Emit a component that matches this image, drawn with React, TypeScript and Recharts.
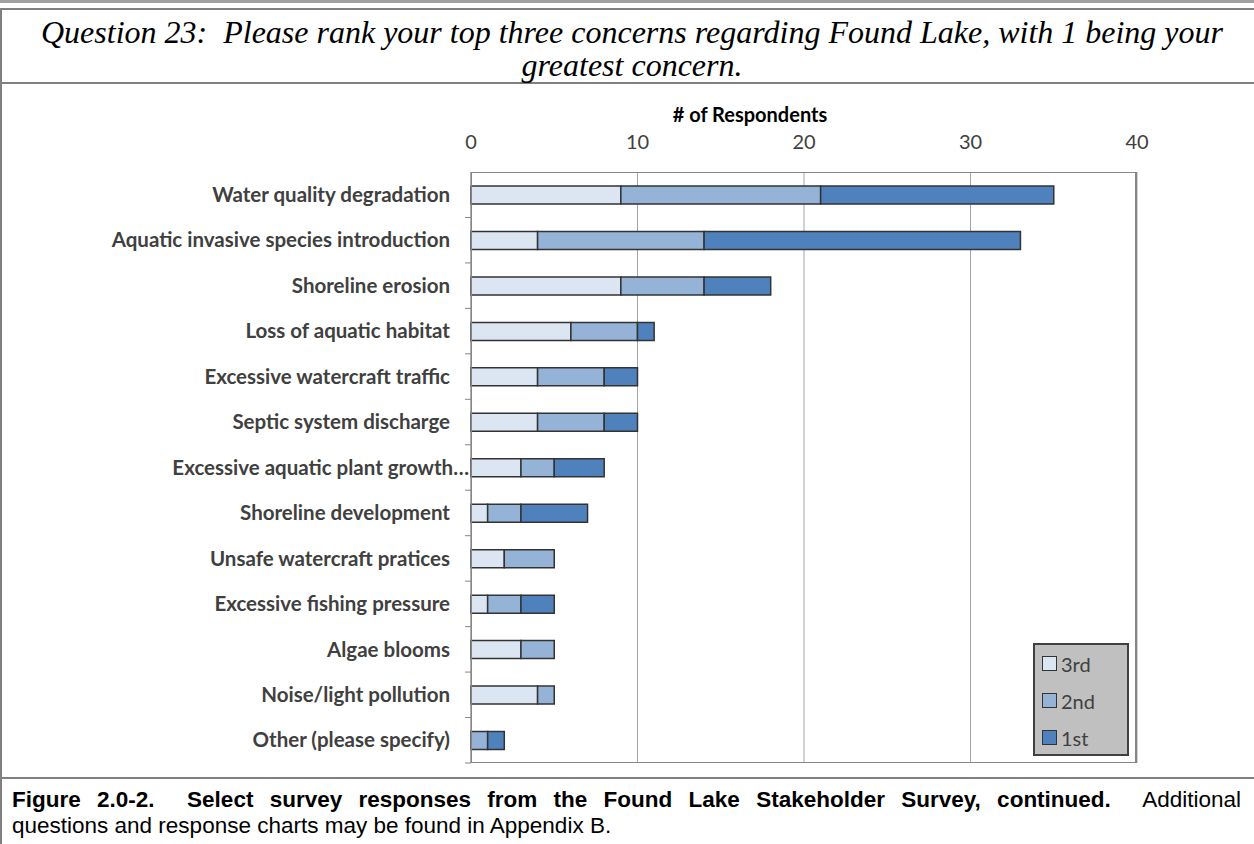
import React from 'react';
import { BarChart, Bar, XAxis, YAxis, CartesianGrid, Legend } from 'recharts';

// survey answers, top to bottom as in the figure
const categories = [
  'Water quality degradation',
  'Aquatic invasive species introduction',
  'Shoreline erosion',
  'Loss of aquatic habitat',
  'Excessive watercraft traffic',
  'Septic system discharge',
  'Excessive aquatic plant growth…',
  'Shoreline development',
  'Unsafe watercraft pratices',
  'Excessive fishing pressure',
  'Algae blooms',
  'Noise/light pollution',
  'Other (please specify)',
];
const third = [9, 4, 9, 6, 4, 4, 3, 1, 2, 1, 3, 4, 0];
const second = [12, 10, 5, 4, 4, 4, 2, 2, 3, 2, 2, 1, 1];
const first = [14, 19, 4, 1, 2, 2, 3, 4, 0, 2, 0, 0, 1];
const xTicks = [0, 10, 20, 30, 40];

const data = categories.map((name, i) => ({
  name,
  third: third[i],
  second: second[i],
  first: first[i],
}));

const W = 1254;
const H = 844;
const PLOT_LEFT = 471;
const PLOT_RIGHT = 1137;
const PLOT_TOP = 172;
const PLOT_BOTTOM = 763;
const X_AXIS_H = 30;
const BAND = (PLOT_BOTTOM - PLOT_TOP) / categories.length;
const CHART_FONT = 'Lato, "Open Sans", sans-serif';
const SERIF = '"Liberation Serif", "Times New Roman", serif';
const SANS = '"Liberation Sans", Arial, sans-serif';

const CategoryTick = ({ y, payload }: any) => {
  const clipped = String(payload.value).endsWith('…');
  return (
    <g>
      <text
        x={clipped ? PLOT_LEFT - 2 : PLOT_LEFT - 21}
        y={y}
        dy="0.35em"
        textAnchor="end"
        fontFamily={CHART_FONT}
        fontWeight={700}
        fontSize={20.5}
        fill="#404040"
      >
        {payload.value}
      </text>
      <line x1={PLOT_LEFT - 6} x2={PLOT_LEFT} y1={y + BAND / 2} y2={y + BAND / 2} stroke="#868686" />
    </g>
  );
};

const ValueTick = ({ x, payload }: any) => (
  <text
    x={x}
    y={PLOT_TOP - 23}
    textAnchor="middle"
    fontFamily={CHART_FONT}
    fontSize={20}
    fill="#404040"
  >
    {payload.value}
  </text>
);

const LegendBox = ({ payload }: any) => (
  <div
    style={{
      background: '#c0c0c0',
      border: '2px solid #404040',
      boxSizing: 'border-box',
      width: 96,
      height: 113,
      padding: '0 0 0 7px',
      fontFamily: CHART_FONT,
      fontSize: 20,
      color: '#404040',
    }}
  >
    {[...(payload || [])].reverse().map((p: any) => (
      <div key={p.value} style={{ display: 'flex', alignItems: 'center', height: 37 }}>
        <span
          style={{
            display: 'inline-block',
            width: 13,
            height: 13,
            background: p.color,
            border: '1.5px solid #333',
            marginRight: 4,
          }}
        />
        {p.value}
      </div>
    ))}
  </div>
);

export default function App() {
  return (
    <div style={{ position: 'absolute', left: 0, top: 0, width: W, height: H, background: '#fff', overflow: 'hidden' }}>
      {/* page frame */}
      <div style={{ position: 'absolute', left: 0, top: 0, width: W, height: 3, background: '#a0a0a0' }} />
      <div style={{ position: 'absolute', left: 0, top: 8, width: W + 10, height: H, borderTop: '2px solid #808080', borderLeft: '2px solid #808080' }} />
      <div style={{ position: 'absolute', left: 0, top: 82, width: W, height: 2, background: '#808080' }} />
      <div style={{ position: 'absolute', left: 0, top: 777, width: W, height: 2, background: '#808080' }} />

      <div
        style={{
          position: 'absolute',
          left: 10,
          top: 16,
          width: W - 10,
          textAlign: 'center',
          fontFamily: SERIF,
          fontStyle: 'italic',
          fontSize: 32,
          lineHeight: '33px',
          whiteSpace: 'nowrap',
        }}
      >
        <div>Question 23:&nbsp; Please rank your top three concerns regarding Found Lake, with 1 being your</div>
        <div>greatest concern.</div>
      </div>

      <div
        style={{
          position: 'absolute',
          left: 750,
          top: 102,
          transform: 'translateX(-50%)',
          fontFamily: CHART_FONT,
          fontWeight: 700,
          fontSize: 20,
          color: '#000',
          whiteSpace: 'nowrap',
        }}
      >
        # of Respondents
      </div>

      <div style={{ position: 'absolute', left: 0, top: 0 }}>
        <BarChart
          width={W}
          height={H}
          data={data}
          layout="vertical"
          barSize={18}
          margin={{ top: PLOT_TOP - X_AXIS_H, right: W - PLOT_RIGHT, bottom: H - PLOT_BOTTOM, left: 0 }}
        >
          <CartesianGrid horizontal={false} stroke="#a6a6a6" />
          <XAxis
            type="number"
            orientation="top"
            domain={[0, 40]}
            ticks={xTicks}
            height={X_AXIS_H}
            axisLine={false}
            tickLine={false}
            tick={<ValueTick />}
            interval={0}
          />
          <YAxis
            type="category"
            dataKey="name"
            width={PLOT_LEFT}
            axisLine={{ stroke: '#868686' }}
            tickLine={false}
            tick={<CategoryTick />}
            interval={0}
          />
          <Legend
            layout="vertical"
            align="center"
            verticalAlign="middle"
            content={<LegendBox />}
            wrapperStyle={{ left: 1033, top: 643, width: 96, height: 113 }}
          />
          <Bar dataKey="third" name="3rd" stackId="a" fill="#dce6f2" stroke="#333" strokeWidth={1.5} isAnimationActive={false} />
          <Bar dataKey="second" name="2nd" stackId="a" fill="#95b3d7" stroke="#333" strokeWidth={1.5} isAnimationActive={false} />
          <Bar dataKey="first" name="1st" stackId="a" fill="#4f81bd" stroke="#333" strokeWidth={1.5} isAnimationActive={false} />
        </BarChart>
      </div>

      {/* plot area border */}
      <div
        style={{
          position: 'absolute',
          left: PLOT_LEFT,
          top: PLOT_TOP,
          width: PLOT_RIGHT - PLOT_LEFT,
          height: PLOT_BOTTOM - PLOT_TOP,
          border: '1px solid #868686',
          borderRight: '2px solid #868686',
          boxSizing: 'border-box',
          pointerEvents: 'none',
        }}
      />

      <div
        style={{
          position: 'absolute',
          left: 12,
          top: 787,
          width: 1229,
          fontFamily: SANS,
          fontSize: 22.5,
          lineHeight: '26px',
          whiteSpace: 'nowrap',
        }}
      >
        <div style={{ textAlign: 'justify', textAlignLast: 'justify' }}>
          <b>Figure 2.0-2.&nbsp; Select survey responses from the Found Lake Stakeholder Survey, continued.</b>&nbsp; Additional
        </div>
        <div>questions and response charts may be found in Appendix B.</div>
      </div>
    </div>
  );
}
